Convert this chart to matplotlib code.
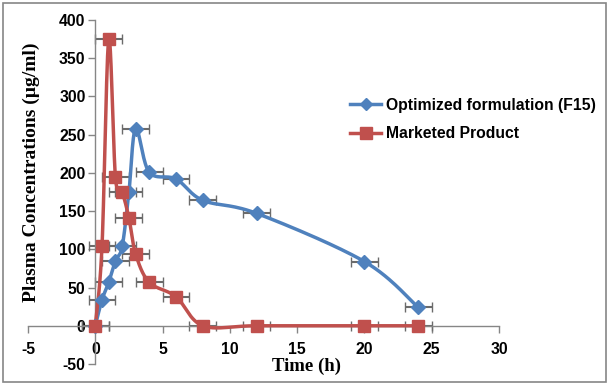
import numpy as np
import matplotlib
matplotlib.use("Agg")
import matplotlib.pyplot as plt
from matplotlib.lines import Line2D
from matplotlib.patches import Rectangle

plt.rcParams["axes.unicode_minus"] = False

# ---- data ----
time_f15 = [0, 0.5, 1, 1.5, 2, 2.5, 3, 4, 6, 8, 12, 20, 24]
conc_f15 = [0, 34, 57, 85, 104, 175, 258, 201, 192, 164, 147, 84, 24]
time_mkt = [0, 0.5, 1, 1.5, 2, 2.5, 3, 4, 6, 8, 12, 20, 24]
conc_mkt = [0, 104, 375, 194, 175, 141, 94, 57, 38, 0, 0, 0, 0]
xerr_h = 1.0
series_names = ["Optimized formulation (F15)", "Marketed Product"]
xticks = [-5, 0, 5, 10, 15, 20, 25, 30]
yticks = [-50, 0, 50, 100, 150, 200, 250, 300, 350, 400]

BLUE = "#4F81BD"
RED = "#C0504D"


def smooth(xs, ys, n=30):
    """Excel-like smoothed line (Catmull-Rom Bezier)."""
    P = np.column_stack([xs, ys]).astype(float)
    out = []
    for i in range(len(P) - 1):
        p0 = P[i - 1] if i > 0 else P[i]
        p1 = P[i]
        p2 = P[i + 1]
        p3 = P[i + 2] if i + 2 < len(P) else P[i + 1]
        c1 = p1 + (p2 - p0) / 6.0
        c2 = p2 - (p3 - p1) / 6.0
        t = np.linspace(0, 1, n)[:, None]
        seg = ((1 - t) ** 3) * p1 + 3 * ((1 - t) ** 2) * t * c1 + 3 * (1 - t) * t ** 2 * c2 + t ** 3 * p2
        out.append(seg if i == 0 else seg[1:])
    arr = np.vstack(out)
    return arr[:, 0], arr[:, 1]


fig = plt.figure(figsize=(6.12, 3.87), dpi=100)
ax = fig.add_axes([28 / 612, 1 - 364 / 387, (499 - 28) / 612, (364 - 20) / 387])

ax.set_xlim(-5, 30)
ax.set_ylim(-50, 400)

for xs, ys, col in [(time_f15, conc_f15, BLUE), (time_mkt, conc_mkt, RED)]:
    ax.errorbar(xs, ys, xerr=xerr_h, fmt="none", ecolor="#6b6b6b", elinewidth=1.5,
                capsize=3.5, capthick=1.0, zorder=2)

sx, sy = smooth(time_f15, conc_f15)
ax.plot(sx, sy, color=BLUE, lw=2.5, zorder=3, solid_capstyle="round")
ax.plot(time_f15, conc_f15, ls="none", marker="D", ms=7, color=BLUE, zorder=4)
sx, sy = smooth(time_mkt, conc_mkt)
ax.plot(sx, sy, color=RED, lw=2.5, zorder=3, solid_capstyle="round")
ax.plot(time_mkt, conc_mkt, ls="none", marker="s", ms=9, color=RED, zorder=4)

# spines
for s in ["top", "right"]:
    ax.spines[s].set_visible(False)
ax.spines["left"].set_position(("data", 0))
ax.spines["bottom"].set_position(("data", 0))
for s in ["left", "bottom"]:
    ax.spines[s].set_color("#868686")
    ax.spines[s].set_linewidth(1.0)

ax.set_xticks(xticks)
ax.set_yticks(yticks)
ax.tick_params(axis="both", colors="#868686", length=5, width=1.0, labelcolor="black",
               labelsize=11.3, direction="out")
ax.tick_params(axis="x", pad=7)
ax.tick_params(axis="y", pad=2)
for lab in ax.get_xticklabels() + ax.get_yticklabels():
    lab.set_fontweight("bold")
    lab.set_fontfamily("Liberation Sans")
ax.set_facecolor("none")

fig.text(31 / 612, 1 - 172 / 387, "Plasma Concentrations (\u00b5g/ml)", rotation=90,
         ha="center", va="center", fontsize=14, fontweight="bold", family="Liberation Serif")
fig.text(307 / 612, 1 - 366 / 387, "Time (h)", ha="center", va="center",
         fontsize=13.5, fontweight="bold", family="Liberation Serif")

handles = [Line2D([0], [0], color=BLUE, lw=2.5, marker="D", ms=6),
           Line2D([0], [0], color=RED, lw=2.5, marker="s", ms=8)]
leg = fig.legend(handles, series_names, loc="upper left", bbox_to_anchor=(342 / 612, 1 - 90 / 387),
                 frameon=False, prop={"family": "Liberation Sans", "weight": "bold", "size": 11.3},
                 handlelength=2.0, handletextpad=0.3, labelspacing=0.85, borderpad=0)

fig.patches.append(Rectangle((3 / 612, 1 - 382 / 387), 603 / 612, 379 / 387, transform=fig.transFigure,
                             fill=False, edgecolor="#868686", lw=1.2))

fig.savefig("out.png", dpi=100)
